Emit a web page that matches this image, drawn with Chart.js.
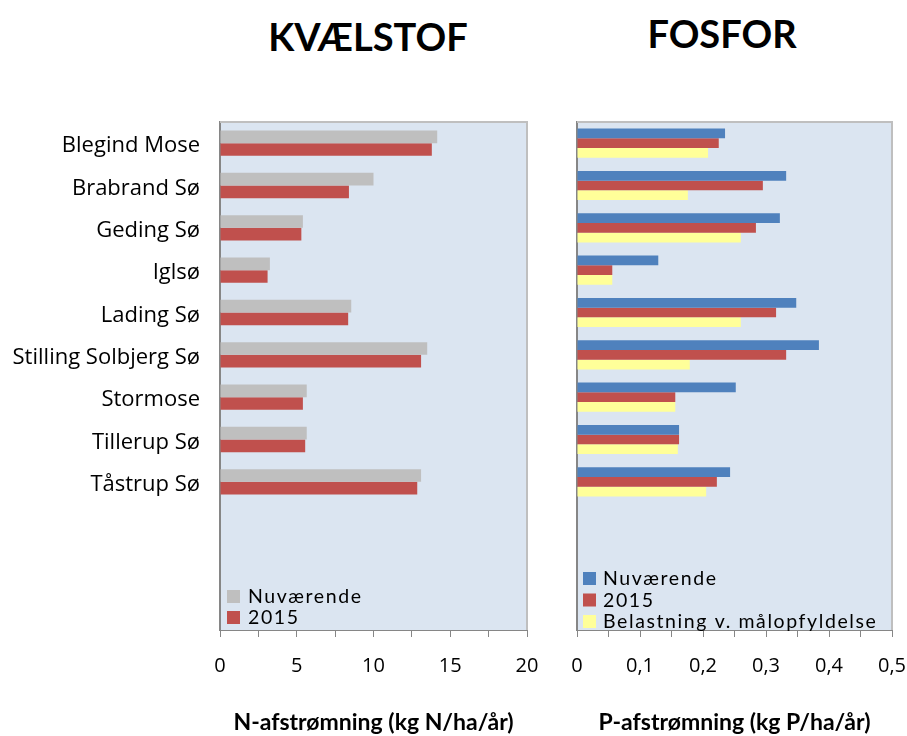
<!DOCTYPE html>
<html>
<head>
<meta charset="utf-8">
<script src="https://cdn.jsdelivr.net/npm/chart.js@4.4.1/dist/chart.umd.min.js"></script>
<style>
  body { margin: 0; width: 907px; height: 736px; background: #fff; position: relative; overflow: hidden; font-family: Lato, sans-serif; }
  .title { position: absolute; font-weight: bold; font-size: 38px; line-height: 40px; transform: translateX(-50%); white-space: nowrap; }
  #wrapN { position: absolute; left: 0; top: 0; width: 545px; height: 736px; }
  #wrapP { position: absolute; left: 545px; top: 0; width: 362px; height: 736px; }
</style>
</head>
<body>
<div class="title" style="left:368px; top:16px">KVÆLSTOF</div>
<div class="title" style="left:722px; top:13px">FOSFOR</div>
<div id="wrapN"><canvas id="chartN"></canvas></div>
<div id="wrapP"><canvas id="chartP"></canvas></div>
<script>
// søer (3 tomme pladser nederst til legenden)
const lakes = ['Blegind Mose', 'Brabrand Sø', 'Geding Sø', 'Iglsø', 'Lading Sø',
  'Stilling Solbjerg Sø', 'Stormose', 'Tillerup Sø', 'Tåstrup Sø']
const categories = [...lakes, ' ', '  ', '   ']

// kvælstof, kg N/ha/år
const nNow = [14.15, 10.0, 5.4, 3.25, 8.55, 13.5, 5.65, 5.65, 13.1]
const n2015 = [13.8, 8.4, 5.3, 3.1, 8.35, 13.1, 5.4, 5.55, 12.85]

// fosfor, kg P/ha/år
const pNow = [0.235, 0.332, 0.322, 0.129, 0.348, 0.384, 0.252, 0.162, 0.243]
const p2015 = [0.225, 0.295, 0.284, 0.056, 0.316, 0.332, 0.156, 0.162, 0.222]
const pTarget = [0.208, 0.176, 0.260, 0.056, 0.260, 0.179, 0.156, 0.160, 0.205]

const FONT = 'Lato'
const LABEL_FONT = '"Open Sans"'
Chart.defaults.font.family = FONT
Chart.defaults.color = '#000'

const plotFrame = {
  id: 'plotFrame',
  beforeDraw(chart) {
    const { ctx, chartArea: a } = chart
    ctx.save()
    ctx.fillStyle = '#DBE5F1'
    ctx.fillRect(a.left, a.top, a.width, a.height)
    ctx.restore()
  },
  afterDatasetsDraw(chart) {
    const { ctx, chartArea: a } = chart
    ctx.save()
    ctx.strokeStyle = '#BFBFBF'
    ctx.lineWidth = 2
    ctx.beginPath()
    ctx.moveTo(a.left, a.top)
    ctx.lineTo(a.right, a.top)
    ctx.lineTo(a.right, a.bottom)
    ctx.stroke()
    ctx.restore()
  }
}

// legend inside the plot, bottom left
const insideLegend = {
  id: 'insideLegend',
  afterDatasetsDraw(chart, args, opts) {
    const { ctx, chartArea: a } = chart
    ctx.save()
    ctx.font = '19.5px ' + FONT
    ctx.letterSpacing = '1.6px'
    ctx.textBaseline = 'middle'
    chart.data.datasets.forEach((ds, i) => {
      const y = a.bottom - opts.bottom + i * opts.step
      ctx.fillStyle = ds.backgroundColor
      ctx.fillRect(a.left + opts.boxX, y - 7, 13, 13)
      ctx.fillStyle = '#000'
      ctx.fillText(ds.label, a.left + opts.textX, y)
    })
    ctx.restore()
  }
}

function makeOptions(cfg) {
  return {
    indexAxis: 'y',
    responsive: true,
    maintainAspectRatio: false,
    animation: false,
    layout: { padding: { top: 122, right: cfg.padRight, bottom: 0, left: 0 } },
    plugins: {
      legend: { display: false },
      tooltip: { enabled: false },
      insideLegend: cfg.legend
    },
    scales: {
      x: {
        min: 0,
        max: cfg.max,
        ticks: {
          stepSize: cfg.step,
          autoSkip: false,
          maxRotation: 0,
          padding: 17,
          font: { size: 20, family: LABEL_FONT },
          callback: cfg.tick
        },
        grid: { drawOnChartArea: false, tickLength: 7, color: '#868686' },
        border: { color: '#868686' },
        title: {
          display: true,
          text: cfg.title,
          font: { size: 23, weight: 'bold' },
          padding: { top: 0, bottom: 0 }
        },
        afterFit: s => {
          s.height = 106
          s.paddingLeft = 0
          s.paddingRight = 0
        }
      },
      y: {
        grid: { display: false },
        border: { color: '#868686', width: 2 },
        ticks: { display: cfg.showLabels, padding: 12, labelOffset: 3, font: { size: 22, family: LABEL_FONT } },
        afterFit: s => { s.width = cfg.axisWidth }
      }
    }
  }
}

new Chart(document.getElementById('chartN'), {
  type: 'bar',
  data: {
    labels: categories,
    datasets: [
      { label: 'Nuværende', data: nNow, backgroundColor: '#BFBFBF', categoryPercentage: 0.6, barPercentage: 1 },
      { label: '2015', data: n2015, backgroundColor: '#C0504D', categoryPercentage: 0.6, barPercentage: 1 }
    ]
  },
  options: makeOptions({
    max: 20, step: 2.5, padRight: 18, axisWidth: 220, showLabels: true,
    title: 'N-afstrømning (kg N/ha/år)',
    tick: v => v % 5 === 0 ? String(v) : '',
    legend: { bottom: 33, step: 21, boxX: 7, textX: 28 }
  }),
  plugins: [plotFrame, insideLegend]
})

new Chart(document.getElementById('chartP'), {
  type: 'bar',
  data: {
    labels: categories,
    datasets: [
      { label: 'Nuværende', data: pNow, backgroundColor: '#4F81BD', categoryPercentage: 0.69, barPercentage: 1 },
      { label: '2015', data: p2015, backgroundColor: '#C0504D', categoryPercentage: 0.69, barPercentage: 1 },
      { label: 'Belastning v. målopfyldelse', data: pTarget, backgroundColor: '#FFFF99', categoryPercentage: 0.69, barPercentage: 1 }
    ]
  },
  options: makeOptions({
    max: 0.5, step: 0.05, padRight: 15, axisWidth: 32, showLabels: false,
    title: 'P-afstrømning (kg P/ha/år)',
    tick: v => Math.round(v * 100) % 10 === 0 ? (v === 0 ? '0' : v.toFixed(1).replace('.', ',')) : '',
    legend: { bottom: 51, step: 21.5, boxX: 6, textX: 26 }
  }),
  plugins: [plotFrame, insideLegend]
})
</script>
</body>
</html>
